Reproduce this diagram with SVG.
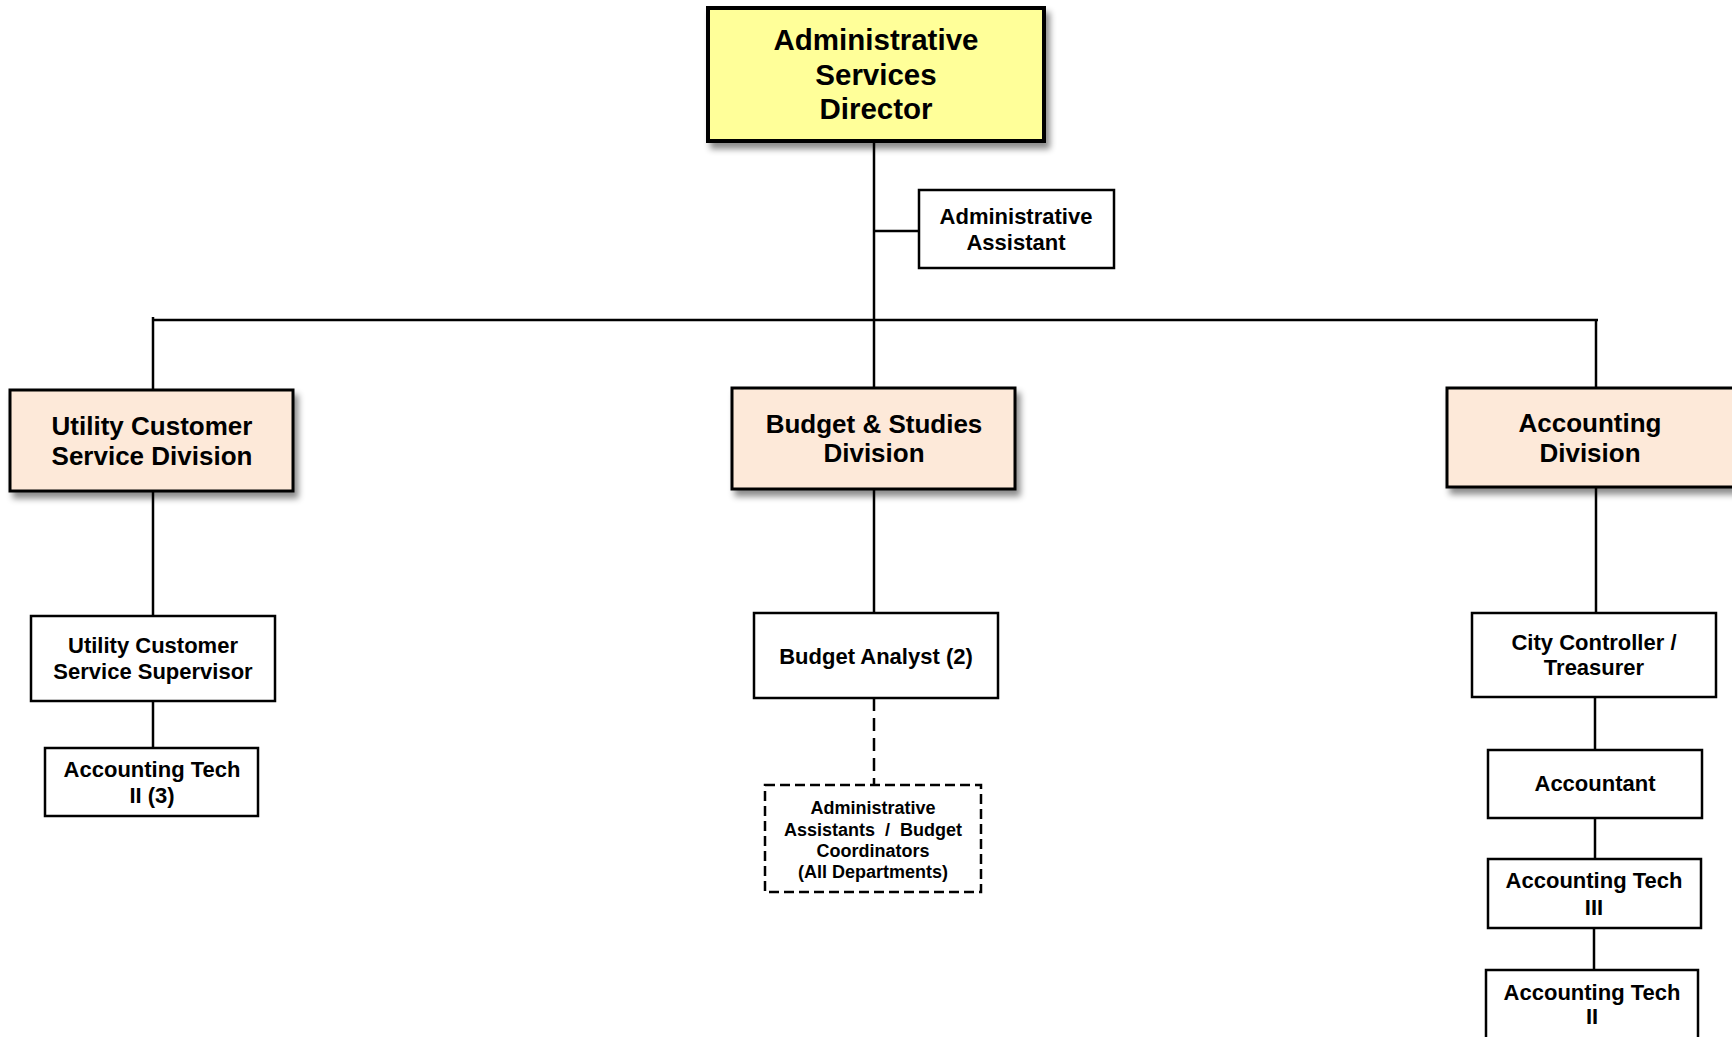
<svg xmlns="http://www.w3.org/2000/svg" width="1732" height="1037" viewBox="0 0 1732 1037">
<defs>
<filter id="sh" x="-10%" y="-20%" width="130%" height="160%">
<feDropShadow dx="4" dy="6" stdDeviation="3" flood-color="#000" flood-opacity="0.45"/>
</filter>
</defs>
<style>
text{font-family:"Liberation Sans",Arial,sans-serif;font-weight:bold;fill:#000;text-anchor:middle}
.box{fill:#fff;stroke:#000;stroke-width:2.5}
.div{fill:#FDE9D9;stroke:#000;stroke-width:3}
.dir{fill:#FFFF99;stroke:#000;stroke-width:4}
.dash{fill:#fff;stroke:#000;stroke-width:2.5;stroke-dasharray:10 5}
.ln{stroke:#000;stroke-width:2.5;fill:none}
.t29{font-size:29.5px}
.t26{font-size:26px}
.t22{font-size:22px}
.t18{font-size:18px}
</style>
<g id="connectors">
<line class="ln" x1="874" y1="141" x2="874" y2="388"/>
<line class="ln" x1="874" y1="231" x2="919" y2="231"/>
<line class="ln" x1="152" y1="320" x2="1598" y2="320" stroke-width="3"/>
<line class="ln" x1="153" y1="317" x2="153" y2="390"/>
<line class="ln" x1="1596" y1="320" x2="1596" y2="388"/>
<line class="ln" x1="153" y1="491" x2="153" y2="616"/>
<line class="ln" x1="153" y1="701" x2="153" y2="748"/>
<line class="ln" x1="874" y1="489" x2="874" y2="613"/>
<line class="ln" x1="874" y1="698" x2="874" y2="785" stroke-dasharray="13 7"/>
<line class="ln" x1="1596" y1="487" x2="1596" y2="613"/>
<line class="ln" x1="1595" y1="697" x2="1595" y2="750"/>
<line class="ln" x1="1595" y1="818" x2="1595" y2="859"/>
<line class="ln" x1="1594" y1="928" x2="1594" y2="970"/>
</g>
<g id="director">
<rect class="dir" x="708" y="8" width="336" height="133" filter="url(#sh)"/>
<text class="t29" x="876" y="50">Administrative</text>
<text class="t29" x="876" y="85">Services</text>
<text class="t29" x="876" y="119">Director</text>
</g>
<g id="admin-assistant">
<rect class="box" x="919" y="190" width="195" height="78"/>
<text class="t22" x="1016" y="224">Administrative</text>
<text class="t22" x="1016" y="250">Assistant</text>
</g>
<g id="utility-division">
<rect class="div" x="10" y="390" width="283" height="101" filter="url(#sh)"/>
<text class="t26" x="152" y="435">Utility Customer</text>
<text class="t26" x="152" y="465">Service Division</text>
</g>
<g id="ucs-supervisor">
<rect class="box" x="31" y="616" width="244" height="85"/>
<text class="t22" x="153" y="653">Utility Customer</text>
<text class="t22" x="153" y="679">Service Supervisor</text>
</g>
<g id="acct-tech-ii-3">
<rect class="box" x="45" y="748" width="213" height="68"/>
<text class="t22" x="152" y="777">Accounting Tech</text>
<text class="t22" x="152" y="803">II (3)</text>
</g>
<g id="budget-division">
<rect class="div" x="732" y="388" width="283" height="101" filter="url(#sh)"/>
<text class="t26" x="874" y="433">Budget &amp; Studies</text>
<text class="t26" x="874" y="462">Division</text>
</g>
<g id="budget-analyst">
<rect class="box" x="754" y="613" width="244" height="85"/>
<text class="t22" x="876" y="664">Budget Analyst (2)</text>
</g>
<g id="budget-coordinators">
<rect class="dash" x="765" y="785" width="216" height="107"/>
<text class="t18" x="873" y="814">Administrative</text>
<text class="t18" x="873" y="836">Assistants&#160; /&#160; Budget</text>
<text class="t18" x="873" y="857">Coordinators</text>
<text class="t18" x="873" y="878">(All Departments)</text>
</g>
<g id="accounting-division">
<rect class="div" x="1447" y="388" width="300" height="99" filter="url(#sh)"/>
<text class="t26" x="1590" y="432">Accounting</text>
<text class="t26" x="1590" y="462">Division</text>
</g>
<g id="city-controller">
<rect class="box" x="1472" y="613" width="244" height="84"/>
<text class="t22" x="1594" y="650">City Controller /</text>
<text class="t22" x="1594" y="675">Treasurer</text>
</g>
<g id="accountant">
<rect class="box" x="1488" y="750" width="214" height="68"/>
<text class="t22" x="1595" y="791">Accountant</text>
</g>
<g id="acct-tech-iii">
<rect class="box" x="1488" y="859" width="213" height="69"/>
<text class="t22" x="1594" y="888">Accounting Tech</text>
<text class="t22" x="1594" y="915">III</text>
</g>
<g id="acct-tech-ii">
<rect class="box" x="1486" y="970" width="212" height="80"/>
<text class="t22" x="1592" y="1000">Accounting Tech</text>
<text class="t22" x="1592" y="1024">II</text>
</g>
</svg>
